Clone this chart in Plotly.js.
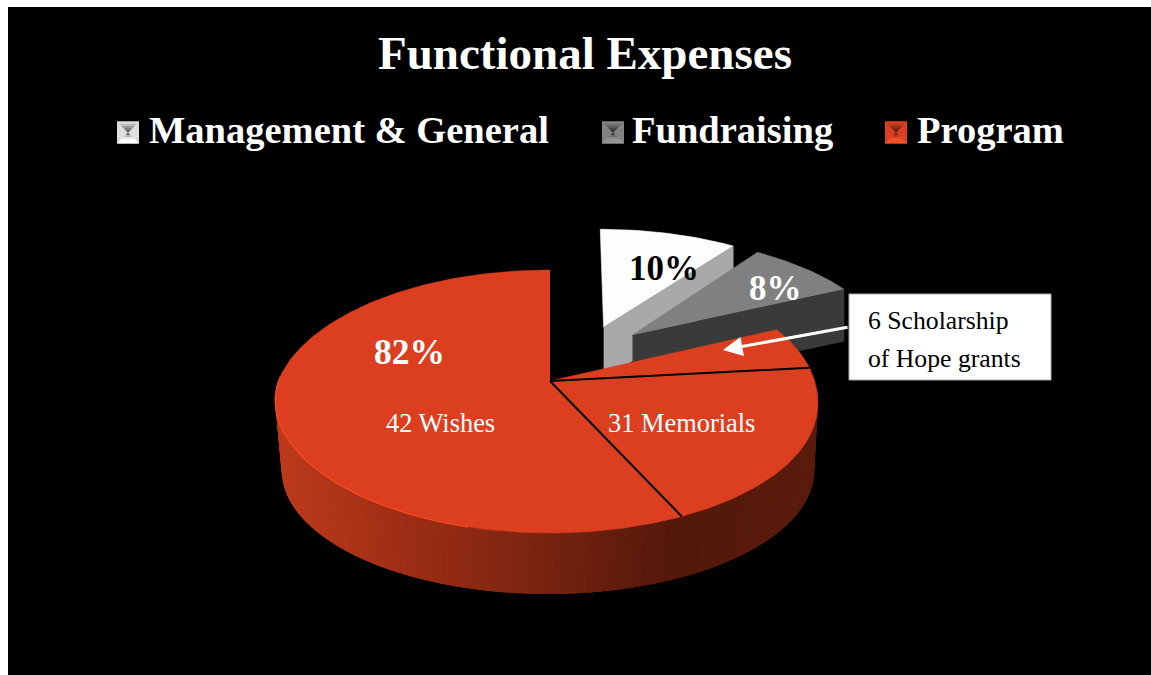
<!DOCTYPE html>
<html><head><meta charset="utf-8">
<script src="https://cdn.plot.ly/plotly-3.0.1.min.js"></script>
<style>html,body{margin:0;padding:0;background:#fff}</style></head>
<body><div id="chart" style="width:1151px;height:675px"></div>
<script>
// ---- data ----
const categories = ['Management & General', 'Fundraising', 'Program'];
const sharePct = [10, 8, 82];
const shareColors = ['#fdfdfd', '#808080', '#dc3f1f'];
const faceColors = ['#a9a9a9', '#3a3a3a', '#dc3f1f'];
const shareTextColors = ['#000000', '#ffffff', '#ffffff'];
const dividerDeg = [84, 155];           // where the black lines cut the Program slice
const programLabels = ['42 Wishes', '31 Memorials'];
const calloutLines = ['6 Scholarship', 'of Hope grants'];
const titleText = 'Functional Expenses';

// ---- projection of the tilted pie (degrees clockwise from 12 o'clock) ----
const pie = {xa: 550, ya: 381, ax: 268, b: 128.3, k: 0.156, sag: -3.5};
const base = {xa: 548, ya: 451, ax: 263, b: 120.7, k: 0.156, sag: 0};
const pulls = [[0.23, 0.45], [0.33, 0.38], [0, 0]];
const apexNudge = [-4, -1, 0];
const pulledDepth = 52;

function proj(p, X, Y) {
  const d = 1 + p.k * Y;
  return [p.xa + p.ax * X / d, p.ya - p.b * Y / d];
}
function rim(p, deg, pull) {
  const t = deg * Math.PI / 180;
  const q = proj(p, Math.sin(t) + pull[0], Math.cos(t) + pull[1]);
  if (pull[0] === 0 && pull[1] === 0) {
    const u = (Math.cos(t) + 0.1) / 0.45;
    q[0] += p.sag * Math.exp(-u * u);
  }
  return q;
}
function arc(p, a, b, pull) {
  const pts = [], n = Math.max(2, Math.ceil(Math.abs(b - a)));
  for (let i = 0; i <= n; i++) pts.push(rim(p, a + (b - a) * i / n, pull));
  return pts;
}
function poly(pts, color, w) {
  return {x: pts.map(q => q[0]), y: pts.map(q => q[1]), mode: 'lines', fill: 'toself',
    fillcolor: color, line: {color: color, width: w === undefined ? 0.6 : w}, hoverinfo: 'skip', showlegend: false};
}
function stroke(pts, color, width) {
  return {x: pts.map(q => q[0]), y: pts.map(q => q[1]), mode: 'lines',
    line: {color: color, width: width}, hoverinfo: 'skip', showlegend: false};
}

// ---- cumulative slice angles from the shares ----
const cuts = [0];
sharePct.forEach(v => cuts.push(cuts[cuts.length - 1] + v * 3.6));

const traces = [];
// pulled slices (Management, Fundraising): cut face, then top
[0, 1].forEach(i => {
  const apex = proj(pie, pulls[i][0], pulls[i][1]);
  apex[0] += apexNudge[i];
  const end = rim(pie, cuts[i + 1], pulls[i]);
  traces.push(poly([apex, end, [end[0], end[1] + pulledDepth], [apex[0], apex[1] + pulledDepth]], faceColors[i]));
  traces.push(poly([apex].concat(arc(pie, cuts[i], cuts[i + 1], pulls[i])), shareColors[i]));
});

// Program outer wall: overlapping strips shaded from left (lit) to right (dark)
const wallStops = [[280, [188, 58, 28]], [400, [160, 46, 21]], [540, [122, 36, 16]], [680, [82, 24, 10]], [820, [90, 27, 12]]];
function wallColor(x) {
  for (let i = 0; i < wallStops.length - 1; i++) {
    const a = wallStops[i], b = wallStops[i + 1];
    if (x <= b[0]) {
      const f = Math.max(0, (x - a[0]) / (b[0] - a[0]));
      return 'rgb(' + a[1].map((c, j) => Math.round(c + (b[1][j] - c) * f)).join(',') + ')';
    }
  }
  return 'rgb(90,27,12)';
}
for (let d = 92; d < 272; d += 1.5) {
  const a = rim(pie, d, [0, 0]);
  traces.push(poly([a].concat(arc(pie, d, d + 4, [0, 0]), arc(base, d + 4, d, [0, 0])), wallColor(a[0]), 0));
}

// Program top
const centre = proj(pie, 0, 0);
traces.push(poly([centre].concat(arc(pie, cuts[2], cuts[3], [0, 0])), shareColors[2]));
// bright edge along the lit rim
traces.push(stroke(arc(pie, 195, 272, [0, 0]), '#f0481f', 1.5));
// dividers
dividerDeg.forEach(d => traces.push(stroke([centre, rim(pie, d, [0, 0])], '#000000', 2)));

// ---- text ----
const serif = '"Liberation Serif", serif';
const anns = [];
function label(x, y, text, size, color, bold, anchor) {
  anns.push({x: x, y: y, xref: 'x', yref: 'y', text: text, showarrow: false,
    xanchor: anchor || 'center', yanchor: 'middle',
    font: {family: serif, size: size, color: color, weight: bold ? 700 : 400}});
}
label(584.5, 53, titleText, 47, '#ffffff', true);
const legendText = [147, 630, 915], legendSwatch = [117, 602, 885], swatchSize = 22, legendY = 130, swatchY = 132.5;
categories.forEach((c, i) => label(legendText[i], legendY, c, 38.5, '#ffffff', true, 'left'));
label(664, 268, sharePct[0] + '%', 35, shareTextColors[0], true);
label(775.5, 288, sharePct[1] + '%', 35, shareTextColors[1], true);
label(409, 352, sharePct[2] + '%', 35.5, shareTextColors[2], true);
label(440, 423, programLabels[0], 26.4, '#ffffff', false);
label(681, 423, programLabels[1], 26.4, '#ffffff', false);
label(866, 320, calloutLines[0], 25.7, '#000000', false, 'left');
label(866, 358, calloutLines[1], 25.7, '#000000', false, 'left');
anns.push({x: 723, y: 350, ax: 849, ay: 327, axref: 'x', ayref: 'y', xref: 'x', yref: 'y', text: '',
  showarrow: true, arrowhead: 2, arrowsize: 1.3, arrowwidth: 3, arrowcolor: '#ffffff'});

// ---- shapes: backdrop, callout box, bevelled legend swatches ----
const shapes = [
  {type: 'rect', xref: 'x', yref: 'y', x0: 8, y0: 7, x1: 1151, y1: 675, fillcolor: '#000000', line: {width: 0}, layer: 'below'},
  {type: 'rect', xref: 'x', yref: 'y', x0: 849, y0: 294, x1: 1051, y1: 380, fillcolor: '#ffffff', line: {color: '#aaaaaa', width: 1}, layer: 'above'}
];
function mix(a, b, f) { return 'rgb(' + a.map((c, j) => Math.round(c + (b[j] - c) * f)).join(',') + ')'; }
const swatchEdge = [[222, 222, 222], [130, 130, 130], [220, 64, 30]];
const swatchLight = [[255, 255, 255], [150, 150, 150], [245, 80, 40]];
const swatchDark = [[90, 90, 90], [50, 50, 50], [90, 30, 15]];
legendSwatch.forEach((x0, i) => {
  const s = swatchSize, y0 = swatchY - s / 2;
  const cx = x0 + s / 2, cy = y0 + s / 2;
  shapes.push({type: 'rect', xref: 'x', yref: 'y', x0: x0, y0: y0, x1: x0 + s, y1: y0 + s,
    fillcolor: mix(swatchEdge[i], swatchEdge[i], 0), line: {width: 0}});
  const steps = 5;
  for (let n = 0; n < steps; n++) {
    const h = s / 2 * (1 - n / steps), f = n / (steps - 1);
    shapes.push({type: 'path', xref: 'x', yref: 'y',
      path: `M${cx - h} ${cy - h} L${cx + h} ${cy - h} L${cx} ${cy} Z`,
      fillcolor: mix(swatchEdge[i], swatchDark[i], f), line: {width: 0}});
    shapes.push({type: 'path', xref: 'x', yref: 'y',
      path: `M${cx - h} ${cy + h} L${cx + h} ${cy + h} L${cx} ${cy} Z`,
      fillcolor: mix(swatchLight[i], swatchDark[i], f * f * f), line: {width: 0}});
  }
});

const layout = {
  width: 1151, height: 675, autosize: false,
  margin: {l: 0, r: 0, t: 0, b: 0, pad: 0},
  paper_bgcolor: '#ffffff', plot_bgcolor: 'rgba(0,0,0,0)',
  xaxis: {range: [0, 1151], visible: false, fixedrange: true},
  yaxis: {range: [675, 0], visible: false, fixedrange: true},
  showlegend: false, shapes: shapes, annotations: anns
};
Plotly.newPlot('chart', traces, layout, {displayModeBar: false, staticPlot: true});
</script></body></html>
